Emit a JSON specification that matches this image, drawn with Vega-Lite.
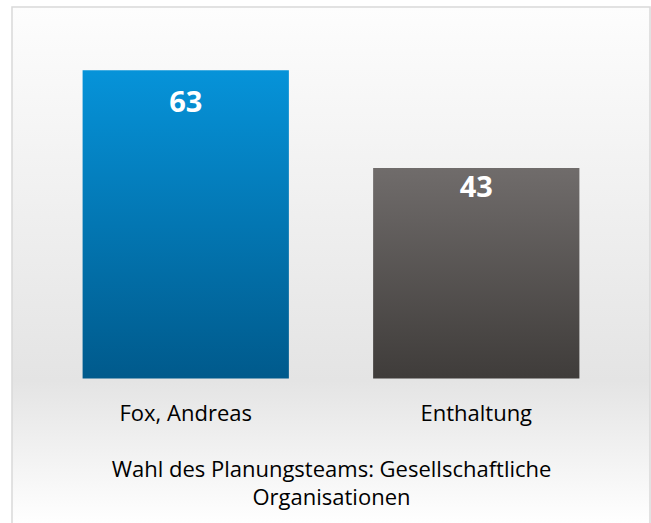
{
  "$schema": "https://vega.github.io/schema/vega-lite/v6.json",
  "width": 651,
  "height": 523,
  "autosize": {"type": "fit", "contains": "padding"},
  "padding": {"left": 12, "top": 7, "right": 1, "bottom": -2},
  "background": "#ffffff",
  "config": {
    "font": "Open Sans",
    "view": {
      "stroke": "#d9d9d9",
      "strokeWidth": 1.5,
      "fill": {
        "gradient": "linear",
        "x1": 0, "y1": 0, "x2": 0, "y2": 1,
        "stops": [
          {"offset": 0, "color": "#fdfdfd"},
          {"offset": 0.72, "color": "#e4e4e4"},
          {"offset": 1, "color": "#ffffff"}
        ]
      }
    }
  },
  "data": {
    "values": [
      {"name": "Fox, Andreas", "votes": 63},
      {"name": "Enthaltung", "votes": 43}
    ]
  },
  "encoding": {
    "x": {
      "field": "name",
      "type": "nominal",
      "sort": null,
      "scale": {"paddingInner": 0.29, "paddingOuter": 0.243},
      "axis": {
        "orient": "bottom",
        "offset": -146,
        "domain": false,
        "ticks": false,
        "grid": false,
        "labelAngle": 0,
        "labelFont": "Open Sans",
        "labelFontSize": 22,
        "labelColor": "#000000",
        "labelBaseline": "alphabetic",
        "labelPadding": 41,
        "title": ["Wahl des Planungsteams: Gesellschaftliche", "Organisationen"],
        "titleFont": "Open Sans",
        "titleFontSize": 22,
        "titleFontWeight": "normal",
        "titleColor": "#000000",
        "titlePadding": 35,
        "titleLineHeight": 28
      }
    },
    "y": {
      "field": "votes",
      "type": "quantitative",
      "scale": {"domain": [-29.95, 75.9], "nice": false, "zero": false},
      "axis": null
    }
  },
  "layer": [
    {
      "mark": {"type": "bar"},
      "encoding": {
        "color": {
          "condition": {
            "test": "datum.name === 'Fox, Andreas'",
            "value": {
              "gradient": "linear",
              "x1": 0, "y1": 0, "x2": 0, "y2": 1,
              "stops": [
                {"offset": 0, "color": "#0693d9"},
                {"offset": 1, "color": "#005a8c"}
              ]
            }
          },
          "value": {
            "gradient": "linear",
            "x1": 0, "y1": 0, "x2": 0, "y2": 1,
            "stops": [
              {"offset": 0, "color": "#706c6b"},
              {"offset": 1, "color": "#3f3c3a"}
            ]
          }
        }
      }
    },
    {
      "transform": [{"filter": "datum.name === 'Fox, Andreas'"}],
      "mark": {
        "type": "text",
        "baseline": "alphabetic",
        "align": "center",
        "dy": 42,
        "fontSize": 29,
        "fontWeight": "bold",
        "font": "Open Sans",
        "color": "#ffffff"
      },
      "encoding": {
        "text": {"field": "votes", "type": "quantitative"}
      }
    },
    {
      "transform": [{"filter": "datum.name === 'Enthaltung'"}],
      "mark": {
        "type": "text",
        "baseline": "alphabetic",
        "align": "center",
        "dy": 29,
        "fontSize": 29,
        "fontWeight": "bold",
        "font": "Open Sans",
        "color": "#ffffff"
      },
      "encoding": {
        "text": {"field": "votes", "type": "quantitative"}
      }
    }
  ]
}
